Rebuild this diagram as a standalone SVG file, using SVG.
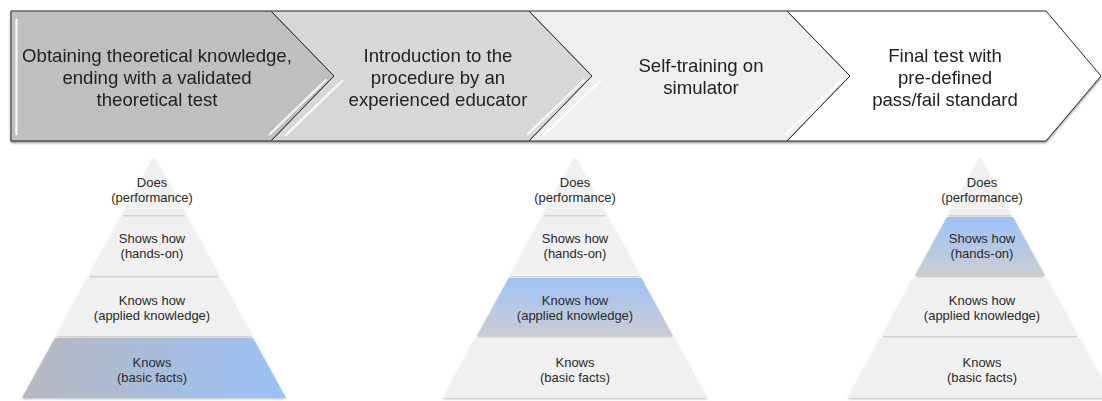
<svg xmlns="http://www.w3.org/2000/svg" width="1102" height="401" viewBox="0 0 1102 401">
  <defs>
    <style>
      .step { stroke: #2a2a2a; stroke-width: 1; stroke-linejoin: miter; }
      .stepText { font-family: "Liberation Sans", Arial, sans-serif; font-size: 18.6px; fill: #222; text-anchor: middle; }
      .band { fill: #f0f0f0; }
      .lvl { font-family: "Liberation Sans", Arial, sans-serif; font-size: 13px; fill: #2a2a2a; text-anchor: middle; }
      .gloss { fill: none; stroke: #ffffff; stroke-opacity: 0.85; stroke-width: 2.4; stroke-linecap: round; }
    </style>
    <filter id="bannerShadow" x="-2%" y="-10%" width="104%" height="125%">
      <feDropShadow dx="0" dy="1.5" stdDeviation="1" flood-color="#000" flood-opacity="0.45"/>
    </filter>
    <filter id="bandShadow" x="-10%" y="-10%" width="120%" height="130%">
      <feDropShadow dx="0" dy="1" stdDeviation="0.8" flood-color="#000" flood-opacity="0.28"/>
    </filter>
    <filter id="soft" filterUnits="userSpaceOnUse" x="0" y="0" width="1102" height="160">
      <feGaussianBlur stdDeviation="0.6"/>
    </filter>
    <linearGradient id="hlHoriz" x1="0" y1="0" x2="1" y2="0">
      <stop offset="0" stop-color="#b6b9bf"/>
      <stop offset="1" stop-color="#9bc1f8"/>
    </linearGradient>
    <linearGradient id="hlVert" x1="0" y1="0" x2="0" y2="1">
      <stop offset="0" stop-color="#9fc3f8"/>
      <stop offset="1" stop-color="#cbcdd1"/>
    </linearGradient>
  </defs>

  <rect width="1102" height="401" fill="#ffffff"/>

  <!-- process banner: four chevron steps -->
  <g id="banner" filter="url(#bannerShadow)">
    <g id="step1">
      <polygon class="step" fill="#bfbfbf" points="11,11 271,11 334,76 271,141 11,141"/>
      <text class="stepText" x="157" y="62">Obtaining theoretical knowledge,</text>
      <text class="stepText" x="157" y="84">ending with a validated</text>
      <text class="stepText" x="157" y="106">theoretical test</text>
    </g>
    <g id="step2">
      <polygon class="step" fill="#d7d7d7" points="271,11 529,11 592,76 529,141 271,141 334,76"/>
      <text class="stepText" x="438" y="62">Introduction to the</text>
      <text class="stepText" x="438" y="84">procedure by an</text>
      <text class="stepText" x="438" y="106">experienced educator</text>
    </g>
    <g id="step3">
      <polygon class="step" fill="#efefef" points="529,11 787,11 850,76 787,141 529,141 592,76"/>
      <text class="stepText" x="701" y="72">Self-training on</text>
      <text class="stepText" x="701" y="94">simulator</text>
    </g>
    <g id="step4">
      <polygon class="step" fill="#ffffff" points="787,11 1046,11 1101,76 1046,141 787,141 850,76"/>
      <text class="stepText" x="945" y="62">Final test with</text>
      <text class="stepText" x="945" y="84">pre-defined</text>
      <text class="stepText" x="945" y="106">pass/fail standard</text>
    </g>
    <!-- glossy bevel highlights along the left edge and lower chevron edges -->
    <g id="bevels" filter="url(#soft)">
      <line class="gloss" x1="16.5" y1="20" x2="16.5" y2="134"/>
      <line class="gloss" x1="326" y1="80" x2="270" y2="134"/>
      <line class="gloss" x1="342" y1="81" x2="286" y2="135"/>
      <line class="gloss" x1="584" y1="80" x2="528" y2="134"/>
      <line class="gloss" x1="600" y1="81" x2="544" y2="135"/>
      <line class="gloss" x1="842" y1="80" x2="786" y2="134"/>
      <line class="gloss" x1="858" y1="81" x2="802" y2="135"/>
    </g>
  </g>

  <!-- competence pyramid under step 1: "Knows" level highlighted -->
  <g id="pyramid1" transform="translate(154,0)">
    <g filter="url(#bandShadow)">
      <polygon class="band" points="0,157 31.8,215 -31.8,215"/>
      <polygon class="band" points="-32.9,217 32.9,217 65.2,276 -65.2,276"/>
      <polygon class="band" points="-66.3,278 66.3,278 98,336 -98,336"/>
      <polygon fill="url(#hlHoriz)" points="-99.1,338 99.1,338 132,398 -132,398"/>
    </g>
    <text class="lvl" x="-2" y="187">Does</text>
    <text class="lvl" x="-2" y="202">(performance)</text>
    <text class="lvl" x="-2" y="243">Shows how</text>
    <text class="lvl" x="-2" y="258">(hands-on)</text>
    <text class="lvl" x="-2" y="305">Knows how</text>
    <text class="lvl" x="-2" y="320">(applied knowledge)</text>
    <text class="lvl" x="-2" y="367">Knows</text>
    <text class="lvl" x="-2" y="382">(basic facts)</text>
  </g>

  <!-- competence pyramid under step 3: "Knows how" level highlighted -->
  <g id="pyramid2" transform="translate(575,0)">
    <g filter="url(#bandShadow)">
      <polygon class="band" points="0,157 31.8,215 -31.8,215"/>
      <polygon class="band" points="-32.9,217 32.9,217 65.2,276 -65.2,276"/>
      <polygon fill="url(#hlVert)" points="-66.3,278 66.3,278 98,336 -98,336"/>
      <polygon class="band" points="-99.1,338 99.1,338 132,398 -132,398"/>
    </g>
    <text class="lvl" x="0" y="187">Does</text>
    <text class="lvl" x="0" y="202">(performance)</text>
    <text class="lvl" x="0" y="243">Shows how</text>
    <text class="lvl" x="0" y="258">(hands-on)</text>
    <text class="lvl" x="0" y="305">Knows how</text>
    <text class="lvl" x="0" y="320">(applied knowledge)</text>
    <text class="lvl" x="0" y="367">Knows</text>
    <text class="lvl" x="0" y="382">(basic facts)</text>
  </g>

  <!-- competence pyramid under step 4: "Shows how" level highlighted -->
  <g id="pyramid3" transform="translate(980,0)">
    <g filter="url(#bandShadow)">
      <polygon class="band" points="0,157 31.8,215 -31.8,215"/>
      <polygon fill="url(#hlVert)" points="-32.9,217 32.9,217 65.2,276 -65.2,276"/>
      <polygon class="band" points="-66.3,278 66.3,278 98,336 -98,336"/>
      <polygon class="band" points="-99.1,338 99.1,338 132,398 -132,398"/>
    </g>
    <text class="lvl" x="2" y="187">Does</text>
    <text class="lvl" x="2" y="202">(performance)</text>
    <text class="lvl" x="2" y="243">Shows how</text>
    <text class="lvl" x="2" y="258">(hands-on)</text>
    <text class="lvl" x="2" y="305">Knows how</text>
    <text class="lvl" x="2" y="320">(applied knowledge)</text>
    <text class="lvl" x="2" y="367">Knows</text>
    <text class="lvl" x="2" y="382">(basic facts)</text>
  </g>
</svg>
